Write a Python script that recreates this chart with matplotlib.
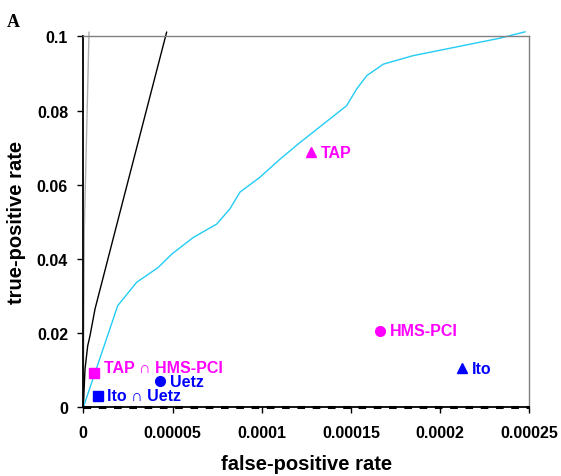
import matplotlib
matplotlib.use("Agg")
import matplotlib.pyplot as plt

plt.rcParams['font.family'] = ['Liberation Sans', 'DejaVu Sans']

# Curves (false-positive rate, true-positive rate)
cyan_fpr = [0, 1.93e-5, 2.99e-5, 4.20e-5, 4.96e-5, 6.17e-5, 7.48e-5, 8.22e-5, 8.78e-5,
            9.90e-5, 1.103e-4, 1.205e-4, 1.476e-4, 1.532e-4, 1.589e-4, 1.682e-4,
            1.850e-4, 2.130e-4, 2.336e-4, 2.476e-4]
cyan_tpr = [0, 0.0274, 0.0337, 0.0377, 0.0413, 0.0458, 0.0494, 0.0535, 0.0580,
            0.0620, 0.0669, 0.0710, 0.0813, 0.0858, 0.0894, 0.0925,
            0.0948, 0.0975, 0.0995, 0.1012]

black_fpr = [0, 9.5e-7, 2.47e-6, 3.76e-6, 6.56e-6, 1.96e-5, 4.67e-5]
black_tpr = [0, 0.0103, 0.0166, 0.0193, 0.0265, 0.0508, 0.1011]

gray_fpr = [0, 5.6e-7, 3.2e-6]
gray_tpr = [0, 0.048, 0.1011]

base_fpr = [0, 2.5e-4]
base_tpr = [0, 0]

# Points
pt_labels = ["TAP", "HMS-PCI", "Ito", "Uetz", "Ito \u2229 Uetz", "TAP \u2229 HMS-PCI"]
pt_fpr = [1.275e-4, 1.663e-4, 2.124e-4, 4.30e-5, 8.1e-6, 6.0e-6]
pt_tpr = [0.0687, 0.0206, 0.0105, 0.0070, 0.0031, 0.0092]
pt_markers = ["^", "o", "^", "o", "s", "s"]
pt_colors = ["#FF00FF", "#FF00FF", "#0000FF", "#0000FF", "#0000FF", "#FF00FF"]

x_ticks = [0, 0.00005, 0.0001, 0.00015, 0.0002, 0.00025]
x_ticklabels = ["0", "0.00005", "0.0001", "0.00015", "0.0002", "0.00025"]
y_ticks = [0, 0.02, 0.04, 0.06, 0.08, 0.1]
y_ticklabels = ["0", "0.02", "0.04", "0.06", "0.08", "0.1"]

fig = plt.figure(figsize=(5.61, 4.77), dpi=100)
ax = fig.add_axes([0.1485, 0.144, 0.7950, 0.7778])

ax.plot(base_fpr, base_tpr, color="black", lw=2.2, ls=(0, (2.5, 2.5)), clip_on=False, zorder=3)
ax.plot(gray_fpr, gray_tpr, color="#B0B0B0", lw=1.0, clip_on=False)
ax.plot(black_fpr, black_tpr, color="black", lw=1.0, clip_on=False)
ax.plot(cyan_fpr, cyan_tpr, color="#22CCF5", lw=1.0, clip_on=False)

for lab, x, y, m, c in zip(pt_labels, pt_fpr, pt_tpr, pt_markers, pt_colors):
    ax.plot([x], [y], marker=m, color=c, markersize=7, ls="none", clip_on=False, zorder=5)
    dy = 4.5 if lab.startswith("TAP \u2229") else 0
    ax.annotate(lab, (x, y), xytext=(7, dy), textcoords="offset points",
                color=c, fontsize=11.5, fontweight="bold", va="center", ha="left")

ax.set_xlim(0, 0.00025)
ax.set_ylim(0, 0.1)
ax.set_xticks(x_ticks)
ax.set_xticklabels(x_ticklabels)
ax.set_yticks(y_ticks)
ax.set_yticklabels(y_ticklabels)

for lbl in ax.get_xticklabels() + ax.get_yticklabels():
    lbl.set_fontweight("bold")
    lbl.set_fontsize(11.5)

ax.tick_params(axis="both", direction="out", length=4, width=1, color="black")
ax.tick_params(axis="x", pad=9)
ax.tick_params(axis="y", pad=7)

ax.spines["left"].set_color("black")
ax.spines["left"].set_linewidth(1.3)
ax.spines["bottom"].set_color("black")
ax.spines["bottom"].set_linewidth(1.3)
ax.spines["top"].set_color("#808080")
ax.spines["top"].set_linewidth(1.0)
ax.spines["right"].set_color("#808080")
ax.spines["right"].set_linewidth(1.0)

ax.set_xlabel("false-positive rate", fontsize=14.5, fontweight="bold", labelpad=10)
ax.set_ylabel("true-positive rate", fontsize=14.5, fontweight="bold", labelpad=8)

fig.text(7 / 561, 1 - 27 / 477, "A", fontsize=13, fontweight="bold",
         family=["Liberation Serif", "DejaVu Serif"], ha="left", va="baseline")

fig.savefig("out.png", dpi=100)
